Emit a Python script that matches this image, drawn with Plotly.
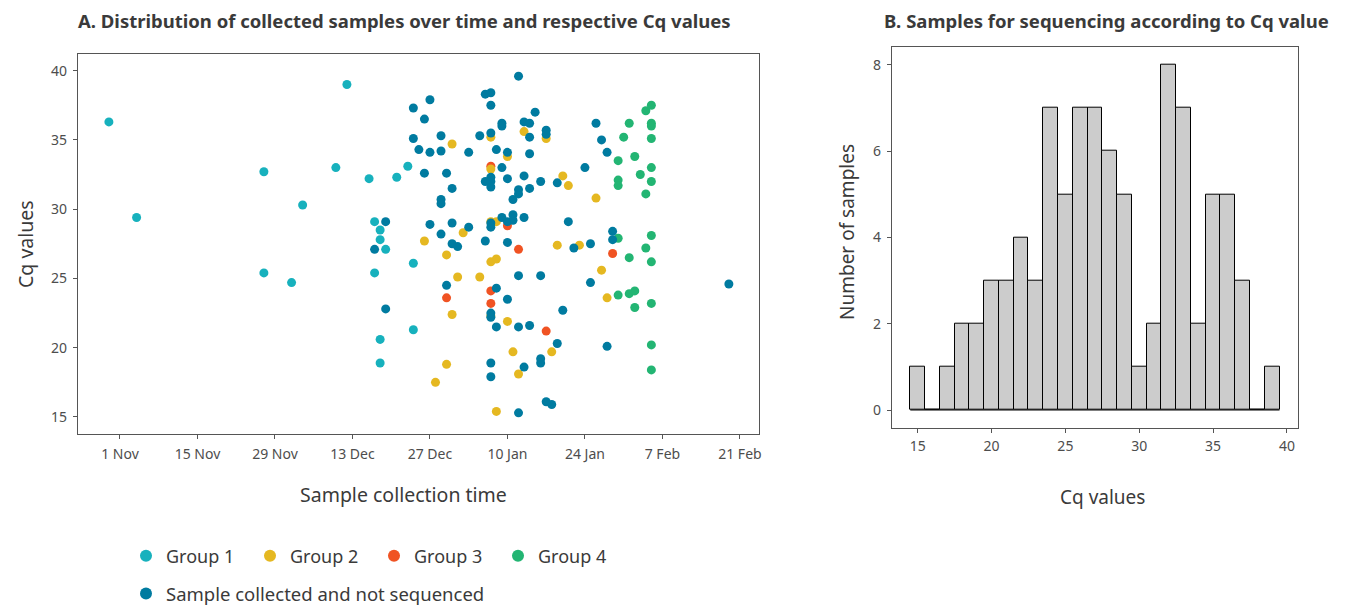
import plotly.graph_objects as go

# ---------------- Panel A data ----------------
g1_dates = ["2020-10-30", "2020-11-04", "2020-11-27", "2020-11-27", "2020-12-02", "2020-12-04",
            "2020-12-10", "2020-12-12", "2020-12-16", "2020-12-17", "2020-12-17", "2020-12-18",
            "2020-12-18", "2020-12-18", "2020-12-18", "2020-12-19", "2020-12-21", "2020-12-23",
            "2020-12-24", "2020-12-24"]
g1_cq = [36.3, 29.4, 32.7, 25.4, 24.7, 30.3, 33.0, 39.0, 32.2, 29.1, 25.4, 28.5,
         27.8, 20.6, 18.9, 27.1, 32.3, 33.1, 26.1, 21.3]

g2_dates = ["2020-12-26", "2020-12-28", "2020-12-30", "2020-12-30", "2020-12-31", "2020-12-31",
            "2021-01-01", "2021-01-02", "2021-01-05", "2021-01-07", "2021-01-07", "2021-01-07",
            "2021-01-07", "2021-01-07", "2021-01-08", "2021-01-08", "2021-01-08", "2021-01-10",
            "2021-01-10", "2021-01-11", "2021-01-12", "2021-01-13", "2021-01-17", "2021-01-18",
            "2021-01-19", "2021-01-20", "2021-01-21", "2021-01-23", "2021-01-26", "2021-01-27",
            "2021-01-28"]
g2_cq = [27.7, 17.5, 26.7, 18.8, 34.7, 22.4, 25.1, 28.3, 25.1, 35.2, 32.9, 29.1,
         26.2, 22.3, 29.1, 26.4, 15.4, 33.8, 21.9, 19.7, 18.1, 35.6, 35.1, 19.7,
         27.4, 32.4, 31.7, 27.4, 30.8, 25.6, 23.6]

g3_dates = ["2020-12-30", "2021-01-07", "2021-01-07", "2021-01-07", "2021-01-10", "2021-01-12",
            "2021-01-17", "2021-01-29"]
g3_cq = [23.6, 33.1, 24.1, 23.2, 28.8, 27.1, 21.2, 26.8]

g4_dates = ["2021-01-30", "2021-01-30", "2021-01-30", "2021-01-30", "2021-01-30",
            "2021-01-31",
            "2021-02-01", "2021-02-01", "2021-02-01",
            "2021-02-02", "2021-02-02", "2021-02-02",
            "2021-02-03",
            "2021-02-04", "2021-02-04", "2021-02-04",
            "2021-02-05", "2021-02-05", "2021-02-05", "2021-02-05", "2021-02-05", "2021-02-05",
            "2021-02-05", "2021-02-05", "2021-02-05", "2021-02-05", "2021-02-05"]
g4_cq = [33.5, 32.1, 31.7, 27.9, 23.8,
         35.2,
         36.2, 26.5, 23.9,
         33.8, 24.1, 22.9,
         32.5,
         37.1, 31.1, 27.2,
         37.5, 36.2, 36.0, 35.1, 33.0, 32.0, 28.1, 26.2, 23.2, 20.2, 18.4]

ns_dates = ["2020-12-17", "2020-12-19", "2020-12-19",
            "2020-12-24", "2020-12-24", "2020-12-25",
            "2020-12-26", "2020-12-26",
            "2020-12-27", "2020-12-27", "2020-12-27",
            "2020-12-29", "2020-12-29", "2020-12-29", "2020-12-29", "2020-12-29",
            "2020-12-30", "2020-12-30",
            "2020-12-31", "2020-12-31", "2020-12-31",
            "2021-01-01",
            "2021-01-03", "2021-01-03",
            "2021-01-05",
            "2021-01-06", "2021-01-06", "2021-01-06",
            "2021-01-07", "2021-01-07", "2021-01-07", "2021-01-07", "2021-01-07", "2021-01-07",
            "2021-01-07", "2021-01-07", "2021-01-07", "2021-01-07", "2021-01-07", "2021-01-07",
            "2021-01-08", "2021-01-08", "2021-01-08",
            "2021-01-09", "2021-01-09", "2021-01-09", "2021-01-09",
            "2021-01-10", "2021-01-10", "2021-01-10", "2021-01-10", "2021-01-10",
            "2021-01-11", "2021-01-11", "2021-01-11",
            "2021-01-12", "2021-01-12", "2021-01-12", "2021-01-12", "2021-01-12", "2021-01-12",
            "2021-01-13", "2021-01-13", "2021-01-13", "2021-01-13",
            "2021-01-14", "2021-01-14", "2021-01-14", "2021-01-14", "2021-01-14",
            "2021-01-15",
            "2021-01-16", "2021-01-16", "2021-01-16", "2021-01-16",
            "2021-01-17", "2021-01-17", "2021-01-17",
            "2021-01-18",
            "2021-01-19", "2021-01-19",
            "2021-01-20",
            "2021-01-21",
            "2021-01-22",
            "2021-01-24",
            "2021-01-25", "2021-01-25",
            "2021-01-26",
            "2021-01-27",
            "2021-01-28", "2021-01-28",
            "2021-01-29", "2021-01-29",
            "2021-02-19"]
ns_cq = [27.1, 29.1, 22.8,
         37.3, 35.1, 34.3,
         36.5, 32.6,
         37.9, 34.1, 28.9,
         35.3, 34.2, 30.7, 30.4, 28.2,
         32.6, 24.5,
         31.5, 29.0, 27.5,
         27.3,
         34.1, 28.7,
         35.3,
         38.3, 32.0, 27.7,
         38.4, 37.5, 35.5, 32.3, 32.0, 31.6,
         29.0, 28.7, 22.5, 22.2, 18.9, 17.9,
         34.3, 24.3, 21.5,
         36.2, 36.0, 33.0, 29.4,
         34.1, 32.2, 29.1, 27.6, 23.5,
         30.7, 29.6, 29.2,
         39.6, 31.4, 31.1, 25.2, 21.5, 15.3,
         36.3, 32.4, 29.4, 18.6,
         36.2, 35.2, 34.0, 31.5, 21.6,
         37.0,
         32.0, 25.2, 19.2, 18.9,
         35.7, 35.4, 16.1,
         15.9,
         31.9, 20.3,
         22.7,
         29.1,
         27.2,
         33.0,
         27.5, 24.7,
         36.2,
         35.0,
         34.1, 20.1,
         28.4, 27.8,
         24.6]

date_tickvals = ["2020-11-01", "2020-11-15", "2020-11-29", "2020-12-13", "2020-12-27",
                 "2021-01-10", "2021-01-24", "2021-02-07", "2021-02-21"]
date_ticktext = ["1 Nov", "15 Nov", "29 Nov", "13 Dec", "27 Dec", "10 Jan", "24 Jan", "7 Feb", "21 Feb"]
cq_ticks = [15, 20, 25, 30, 35, 40]

# ---------------- Panel B data ----------------
hist_bins = [15, 16, 17, 18, 19, 20, 21, 22, 23, 24, 25, 26, 27, 28, 29, 30, 31, 32, 33, 34, 35, 36, 37, 38, 39]
hist_counts = [1, 0, 1, 2, 2, 3, 3, 4, 3, 7, 5, 7, 7, 6, 5, 1, 2, 8, 7, 2, 5, 5, 3, 0, 1]
hist_xticks = [15, 20, 25, 30, 35, 40]
hist_yticks = [0, 2, 4, 6, 8]

# ---------------- Styling ----------------
W, H = 1349, 608
FONT = "Noto Sans"
TXT = "#3a3a3a"
TICK = "#4d4d4d"
COL_G1 = "#17b1bd"
COL_G2 = "#e5b821"
COL_G3 = "#f05323"
COL_G4 = "#23b573"
COL_NS = "#007ba0"


def px_x(p):
    return p / W


def px_y(p):
    return 1 - p / H


fig = go.Figure()

series = [
    ("Group 3", g3_dates, g3_cq, COL_G3, "legend", 3),
    ("Group 4", g4_dates, g4_cq, COL_G4, "legend", 4),
    ("Group 1", g1_dates, g1_cq, COL_G1, "legend", 1),
    ("Group 2", g2_dates, g2_cq, COL_G2, "legend", 2),
    ("Sample collected and not sequenced", ns_dates, ns_cq, COL_NS, "legend2", 5),
]
for name, xs, ys, col, leg, rank in series:
    fig.add_trace(go.Scatter(
        x=xs, y=ys, mode="markers", name=name,
        marker=dict(color=col, size=9, line=dict(width=0)),
        xaxis="x", yaxis="y", legend=leg, legendrank=rank,
    ))

fig.add_trace(go.Bar(
    x=hist_bins, y=hist_counts, width=1,
    marker=dict(color="#cccccc", line=dict(color="#000000", width=1)),
    xaxis="x2", yaxis="y2", showlegend=False,
))
# baseline of the histogram (visible where bins are empty)
fig.add_trace(go.Scatter(
    x=[hist_bins[0] - 0.5, hist_bins[-1] + 0.5], y=[0, 0], mode="lines",
    line=dict(color="#000000", width=1), xaxis="x2", yaxis="y2",
    showlegend=False, hoverinfo="skip",
))

axis_common = dict(
    showline=True, mirror=True, linecolor="#555555", linewidth=1.3,
    ticks="outside", ticklen=4, tickcolor="#555555", tickwidth=1,
    showgrid=False, zeroline=False,
    tickfont=dict(family=FONT, size=14, color=TICK),
)

fig.update_layout(
    width=W, height=H,
    margin=dict(l=0, r=0, t=0, b=0, autoexpand=False),
    paper_bgcolor="white", plot_bgcolor="white",
    font=dict(family=FONT, color=TXT),
    bargap=0,
    xaxis=dict(domain=[px_x(78), px_x(759.3)], type="date",
               range=["2020-10-24 10:00", "2021-02-24 12:00"],
               tickvals=date_tickvals, ticktext=date_ticktext,
               ticklabelstandoff=3, anchor="y", **axis_common),
    yaxis=dict(domain=[px_y(434.3), px_y(54)], range=[13.75, 41.2],
               tickvals=cq_ticks, anchor="x", ticklabelstandoff=3, **axis_common),
    xaxis2=dict(domain=[px_x(892), px_x(1297.7)], range=[13.26, 40.73],
                tickvals=hist_xticks, anchor="y2", ticklabelstandoff=1, **axis_common),
    yaxis2=dict(domain=[px_y(427.7), px_y(46.7)], range=[-0.41, 8.42],
                tickvals=hist_yticks, anchor="x2", ticklabelstandoff=3, **axis_common),
    legend=dict(orientation="h", x=px_x(126), y=px_y(556), xanchor="left", yanchor="middle",
                font=dict(family=FONT, size=18, color=TXT), itemsizing="constant",
                entrywidth=79, entrywidthmode="pixels", bgcolor="rgba(0,0,0,0)",
                traceorder="normal"),
    legend2=dict(orientation="h", x=px_x(126), y=px_y(594), xanchor="left", yanchor="middle",
                 font=dict(family=FONT, size=18.5, color=TXT), itemsizing="constant",
                 bgcolor="rgba(0,0,0,0)"),
    showlegend=True,
)

annotations = [
    dict(text="<b>A. Distribution of collected samples over time and respective Cq values</b>",
         x=px_x(76), y=px_y(20), xanchor="left", yanchor="middle", font=dict(size=18.5)),
    dict(text="<b>B. Samples for sequencing according to Cq value</b>",
         x=px_x(882), y=px_y(20), xanchor="left", yanchor="middle", font=dict(size=18.5)),
    dict(text="Cq values", x=px_x(25), y=px_y(244), textangle=-90,
         xanchor="center", yanchor="middle", font=dict(size=19.5)),
    dict(text="Sample collection time", x=px_x(403), y=px_y(494),
         xanchor="center", yanchor="middle", font=dict(size=19.5)),
    dict(text="Number of samples", x=px_x(847), y=px_y(232), textangle=-90,
         xanchor="center", yanchor="middle", font=dict(size=19)),
    dict(text="Cq values", x=px_x(1102), y=px_y(497),
         xanchor="center", yanchor="middle", font=dict(size=19)),
]
for a in annotations:
    a.update(xref="paper", yref="paper", showarrow=False)
    a["font"].update(family=FONT, color=TXT)
fig.update_layout(annotations=annotations)

fig.write_html("out.html", config={"displayModeBar": False},
               post_script="document.body.style.margin='0px';")
